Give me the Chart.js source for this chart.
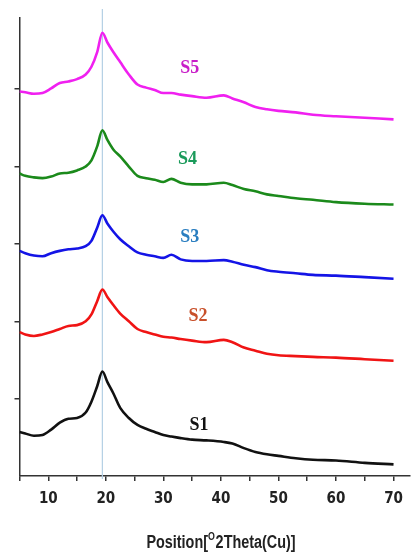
<!DOCTYPE html>
<html>
<head>
<meta charset="utf-8">
<script src="https://cdn.jsdelivr.net/npm/chart.js@4.4.1/dist/chart.umd.min.js"></script>
<style>
  html, body { margin: 0; padding: 0; background: #fff; }
  #wrap { width: 412px; height: 555px; position: relative; }
</style>
</head>
<body>
<div id="wrap"><canvas id="xrdChart"></canvas></div>
<script>
// 2theta positions (deg) shared by all patterns
const theta = [5, 6, 7.5, 9, 10.5, 12, 13.5, 15, 16.5, 17.5, 18.5, 19.4, 20.3, 21.3, 22.5, 24, 25.5, 27, 28.5, 30,
  31.4, 33, 35, 37.5, 40.5, 42, 44, 46, 48, 50, 53, 56, 60, 65, 70];

// intensities (a.u., stacked as plotted)
const s1 = [57, 55, 52, 53, 60, 69, 74, 75, 82, 96, 116, 135, 121, 107, 88, 75, 66, 61, 57, 53,
  51, 49, 47, 46, 44, 42, 36, 31, 28, 26, 23, 21, 20, 17, 15];
const s2 = [186, 183, 181, 183, 186, 190, 194, 195, 200, 209, 226, 241, 231, 221, 210, 200, 190, 186, 183, 180,
  179, 177, 175, 173, 176, 173, 166, 162, 158, 156, 155, 154, 153, 151, 149];
const s3 = [291, 288, 285, 284, 288, 291, 293, 294, 297, 304, 321, 337, 326, 316, 306, 297, 289, 286, 284, 282,
  286, 280, 278, 278, 279, 277, 273, 270, 266, 264, 262, 260, 259, 257, 255];
const s4 = [391, 388, 386, 385, 387, 391, 392, 395, 400, 408, 426, 447, 434, 422, 413, 400, 388, 385, 383, 380,
  384, 379, 377, 377, 379, 376, 371, 368, 364, 362, 359, 357, 354, 352, 351];
const s5 = [497, 496, 494, 495, 501, 508, 510, 513, 519, 529, 548, 573, 560, 548, 535, 519, 506, 502, 499, 495,
  495, 493, 491, 489, 492, 488, 483, 477, 474, 472, 470, 467, 465, 463, 461];

const sampleNames = ['S1', 'S2', 'S3', 'S4', 'S5'];
const xTicks = [5, 10, 15, 20, 25, 30, 35, 40, 45, 50, 55, 60, 65, 70];
const yTicks = [100, 200, 300, 400, 500];
const peakLine = 19.4;

// where the sample names sit (data coords)
const labelX = [36.2, 36.0, 34.6, 34.2, 34.6];
const labelY = [66, 206, 308, 409, 527];

const lineColors = ['#111111', '#f01414', '#1414e6', '#1b8a1b', '#f020f0'];
const labelColors = ['#111111', '#c8502a', '#2a7ec0', '#1a9a5a', '#c81ec8'];

const series = [s1, s2, s3, s4, s5];

const peakLinePlugin = {
  id: 'peakLine',
  beforeDatasetsDraw(chart) {
    const { ctx, chartArea, scales } = chart;
    const x = scales.x.getPixelForValue(peakLine);
    ctx.save();
    ctx.strokeStyle = '#b4d0e4';
    ctx.lineWidth = 1.2;
    ctx.beginPath();
    ctx.moveTo(x, chartArea.top - 9);
    ctx.lineTo(x, chartArea.bottom + 3);
    ctx.stroke();
    ctx.restore();
  }
};

const sampleLabels = {
  id: 'sampleLabels',
  afterDatasetsDraw(chart) {
    const { ctx, scales } = chart;
    ctx.save();
    ctx.font = 'bold 18px "Liberation Serif", "Times New Roman", serif';
    ctx.textAlign = 'center';
    ctx.textBaseline = 'middle';
    sampleNames.forEach((name, i) => {
      ctx.fillStyle = labelColors[i];
      ctx.fillText(name, scales.x.getPixelForValue(labelX[i]), scales.y.getPixelForValue(labelY[i]));
    });
    ctx.restore();
  }
};

// x title in a narrow bold face with the superscript O
const xTitle = {
  id: 'xTitle',
  afterDraw(chart) {
    const { ctx } = chart;
    const big = 'bold 18px "Liberation Sans", Arial, sans-serif';
    const small = 'bold 11px "Liberation Sans", Arial, sans-serif';
    const squeeze = 0.8;
    ctx.save();
    ctx.font = big;
    const w1 = ctx.measureText('Position[').width;
    const w3 = ctx.measureText('2Theta(Cu)]').width;
    ctx.font = small;
    const w2 = ctx.measureText('O').width + 1;
    const total = w1 + w2 + w3;
    ctx.translate(221, 543);
    ctx.scale(squeeze, 1);
    ctx.fillStyle = '#222';
    ctx.textBaseline = 'middle';
    ctx.textAlign = 'left';
    let x = -total / 2;
    ctx.font = big;
    ctx.fillText('Position[', x, 0);
    x += w1;
    ctx.font = small;
    ctx.fillText('O', x, -6);
    x += w2;
    ctx.font = big;
    ctx.fillText('2Theta(Cu)]', x, 0);
    ctx.restore();
  }
};

const ctx = document.getElementById('xrdChart').getContext('2d');
const xrdChart = new Chart(ctx, {
  type: 'line',
  data: {
    datasets: series.map((vals, i) => ({
      label: sampleNames[i],
      data: theta.map((t, j) => ({ x: t, y: vals[j] })),
      borderColor: lineColors[i],
      borderWidth: 2.6,
      pointRadius: 0,
      cubicInterpolationMode: 'monotone',
      fill: false
    }))
  },
  options: {
    responsive: true,
    maintainAspectRatio: false,
    animation: false,
    layout: { padding: { left: 14.5, right: 2, top: 18, bottom: 38 } },
    plugins: { legend: { display: false }, tooltip: { enabled: false } },
    scales: {
      x: {
        type: 'linear',
        min: 5,
        max: 72.8,
        afterBuildTicks(scale) { scale.ticks = xTicks.map(v => ({ value: v })); },
        border: { display: true, color: '#333', width: 1.5 },
        grid: { drawOnChartArea: false, drawTicks: true, tickLength: 5, color: '#333', lineWidth: 1.5 },
        ticks: {
          color: '#222',
          padding: 9,
          maxRotation: 0,
          font: { family: '"DejaVu Sans Condensed", "Liberation Sans Narrow", Arial', size: 15, weight: 'bold' },
          callback: (v) => (v % 10 === 0 ? String(v) : '')
        }
      },
      y: {
        min: 0,
        max: 592,
        afterBuildTicks(scale) { scale.ticks = yTicks.map(v => ({ value: v })); },
        border: { display: true, color: '#333', width: 1.5 },
        grid: { drawOnChartArea: false, drawTicks: true, tickLength: 5, color: '#333', lineWidth: 1.5 },
        ticks: { display: false }
      }
    }
  },
  plugins: [peakLinePlugin, sampleLabels, xTitle]
});
</script>
</body>
</html>
